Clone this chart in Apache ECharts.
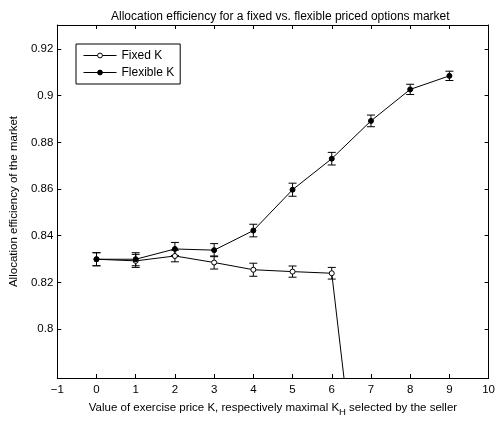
<!DOCTYPE html>
<html><head><meta charset="utf-8">
<script src="https://cdn.jsdelivr.net/npm/echarts@6/dist/echarts.min.js"></script>
<style>html,body{margin:0;padding:0;background:#fff}#c{width:498px;height:422px}</style>
</head><body><div id="c"></div>
<script>
var xValues = [0,1,2,3,4,5,6,7,8,9];
var fixedVals = [0.8299,0.8292,0.8313,0.8285,0.8254,0.8246,0.8239,0.68];
var fixedErr = [0.0028,0.0028,0.0025,0.0028,0.0028,0.0024,0.0025];
var flexVals = [0.8299,0.8299,0.8343,0.8338,0.8422,0.8597,0.8730,0.8892,0.9027,0.9085];
var flexErr = [0.0028,0.0028,0.0028,0.0028,0.0027,0.0028,0.0027,0.0025,0.0022,0.0020];
var xTicks = [-1,0,1,2,3,4,5,6,7,8,9,10];
var yTicks = [0.8,0.82,0.84,0.86,0.88,0.9,0.92];

var FONT = '"Liberation Sans", Arial, Helvetica, sans-serif';
function pts(vals){ return vals.map(function(v,i){ return [xValues[i], v]; }); }
function errs(vals, e){ return e.map(function(d,i){ return [xValues[i], vals[i]-d, vals[i]+d]; }); }
function errRender(params, api){
  var x = api.value(0);
  var lo = api.coord([x, api.value(1)]);
  var hi = api.coord([x, api.value(2)]);
  var hw = 4;
  var st = {stroke:'#000', lineWidth:1};
  return {type:'group', children:[
    {type:'line', shape:{x1:lo[0],y1:lo[1],x2:hi[0],y2:hi[1]}, style:st},
    {type:'line', shape:{x1:lo[0]-hw,y1:lo[1],x2:lo[0]+hw,y2:lo[1]}, style:st},
    {type:'line', shape:{x1:hi[0]-hw,y1:hi[1],x2:hi[0]+hw,y2:hi[1]}, style:st}
  ]};
}
var axLine = {show:true, onZero:false, lineStyle:{color:'#000', width:1}};
var chart = echarts.init(document.getElementById('c'));
chart.setOption({
  animation:false,
  textStyle:{fontFamily:FONT},
  title:{text:'Allocation efficiency for a fixed vs. flexible priced options market',
    left:106, top:6, textStyle:{fontSize:12, fontWeight:'normal', color:'#000', fontFamily:FONT}},
  grid:{left:52, right:6, top:25, bottom:39},
  legend:{orient:'vertical', left:76, top:44, padding:[5,6,5,7], itemGap:4, itemWidth:33, itemHeight:6,
    itemTextGap:4, borderColor:'#000', borderWidth:1, backgroundColor:'#fff',
    lineStyle:{width:1}, itemStyle:{borderWidth:1},
    textStyle:{fontSize:12, color:'#000', fontFamily:FONT, lineHeight:13},
    data:['Fixed K','Flexible K']},
  xAxis:[
    {type:'value', position:'bottom', min:-1, max:10, interval:1,
     name:'Value of exercise price K, respectively maximal K{sub|H} selected by the seller',
     nameLocation:'middle', nameGap:21,
     nameTextStyle:{fontSize:11.5, color:'#000', fontFamily:FONT,
       rich:{sub:{fontSize:9.5, color:'#000', fontFamily:FONT, padding:[8,0,0,0]}}},
     axisLine:axLine, axisTick:{inside:true, length:4, lineStyle:{color:'#000'}},
     axisLabel:{fontSize:11.5, color:'#000', margin:6, fontFamily:FONT,
       formatter:function(v){ return String(v).replace('-', '\u2212'); }},
     splitLine:{show:false}},
    {type:'value', position:'top', min:-1, max:10, interval:1,
     axisLine:axLine, axisTick:{inside:true, length:4, lineStyle:{color:'#000'}},
     axisLabel:{show:false}, splitLine:{show:false}}
  ],
  yAxis:[
    {type:'value', position:'left', min:0.779, max:0.9303,
     name:'Allocation efficiency of the market', nameLocation:'middle', nameGap:33,
     nameTextStyle:{fontSize:11.5, color:'#000', fontFamily:FONT},
     axisLine:axLine,
     axisTick:{inside:true, length:4, lineStyle:{color:'#000'}, customValues:yTicks},
     axisLabel:{fontSize:11.5, color:'#000', margin:4, fontFamily:FONT, customValues:yTicks},
     splitLine:{show:false}},
    {type:'value', position:'right', min:0.779, max:0.9303,
     axisLine:axLine,
     axisTick:{inside:true, length:4, lineStyle:{color:'#000'}, customValues:yTicks},
     axisLabel:{show:false, customValues:yTicks}, splitLine:{show:false}}
  ],
  series:[
    {type:'custom', name:'fixedErr', renderItem:errRender, data:errs(fixedVals, fixedErr),
     encode:{x:0, y:[1,2]}, z:1, silent:true},
    {type:'custom', name:'flexErr', renderItem:errRender, data:errs(flexVals, flexErr),
     encode:{x:0, y:[1,2]}, z:1, silent:true},
    {type:'line', name:'Fixed K', data:pts(fixedVals), symbol:'circle', symbolSize:5, showAllSymbol:true,
     lineStyle:{color:'#000', width:1}, itemStyle:{color:'#fff', borderColor:'#000', borderWidth:1}, z:3},
    {type:'line', name:'Flexible K', data:pts(flexVals), symbol:'circle', symbolSize:5, showAllSymbol:true,
     lineStyle:{color:'#000', width:1}, itemStyle:{color:'#000', borderColor:'#000', borderWidth:1}, z:4}
  ]
});
</script></body></html>
